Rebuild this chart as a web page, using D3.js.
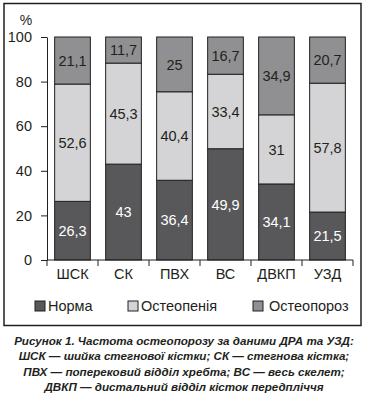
<!DOCTYPE html>
<html><head><meta charset="utf-8">
<script src="https://cdn.jsdelivr.net/npm/d3@7"></script>
<style>html,body{margin:0;padding:0;background:#fff;}svg{display:block;}</style>
</head><body>
<svg id="chart" width="366" height="394"></svg>
<script>
const categories = ["ШСК","СК","ПВХ","ВС","ДВКП","УЗД"];
const norma = [26.3, 43, 36.4, 49.9, 34.1, 21.5];
const osteopenia = [52.6, 45.3, 40.4, 33.4, 31, 57.8];
const osteoporosis = [21.1, 11.7, 25, 16.7, 34.9, 20.7];
const seriesNames = ["Норма","Остеопенія","Остеопороз"];
const yTicks = [0,20,40,60,80,100];
const captionLines = [
  "Рисунок 1. Частота остеопорозу за даними ДРА та УЗД:",
  "ШСК — шийка стегнової кістки; СК — стегнова кістка;",
  "ПВХ — поперековий відділ хребта; ВС — весь скелет;",
  "ДВКП — дистальний відділ кісток передпліччя"
];

const colors = ["#58585a","#d4d4d6","#909092"];
const labelColors = ["#ffffff","#231f20","#231f20"];
const font = "Liberation Sans, Arial, Helvetica, sans-serif";

const svg = d3.select("#chart");
svg.append("rect").attr("x",4).attr("y",3.5).attr("width",357).attr("height",322)
  .attr("fill","none").attr("stroke","#231f20").attr("stroke-width",1.5);

const x = d3.scaleBand().domain(categories).range([47,353]).paddingInner(0.3).paddingOuter(0.15);
const y = d3.scaleLinear().domain([0,100]).range([260,37]);

const stackData = categories.map((c,i)=>({cat:c, s0:norma[i], s1:osteopenia[i], s2:osteoporosis[i]}));
const stacked = d3.stack().keys(["s0","s1","s2"]).offset(d3.stackOffsetExpand)(stackData);

const g = svg.append("g");
stacked.forEach((layer,li)=>{
  g.selectAll(null).data(layer).enter().append("rect")
    .attr("x",d=>x(d.data.cat)).attr("width",x.bandwidth())
    .attr("y",d=>y(d[1]*100)).attr("height",d=>y(d[0]*100)-y(d[1]*100))
    .attr("fill",colors[li]).attr("stroke","#231f20").attr("stroke-width",1);
  g.selectAll(null).data(layer).enter().append("text")
    .attr("x",d=>x(d.data.cat)+x.bandwidth()/2)
    .attr("y",d=>y((d[0]+d[1])*50))
    .attr("dy","0.36em").attr("text-anchor","middle")
    .attr("font-family",font).attr("font-size",14.5)
    .attr("fill",labelColors[li])
    .text(d=>String(d.data["s"+li]).replace(".",","));
});

// y axis
const yAxis = d3.axisLeft(y).tickValues(yTicks).tickSize(6).tickPadding(9).tickSizeOuter(0);
const ya = svg.append("g").attr("transform","translate(47,0)").call(yAxis);
ya.select(".domain").attr("stroke","#231f20");
ya.selectAll(".tick line").attr("stroke","#231f20");
ya.selectAll(".tick text").attr("font-family",font).attr("font-size",14.5).attr("fill","#231f20");

svg.append("text").attr("x",26).attr("y",25).attr("text-anchor","middle")
  .attr("font-family",font).attr("font-size",14).attr("fill","#231f20").text("%");

// x axis with ticks at band edges
svg.append("line").attr("x1",47).attr("x2",353).attr("y1",260).attr("y2",260).attr("stroke","#231f20");
const edges = categories.map(c=>x(c)-x.step()*x.paddingInner()/2).concat([353]);
edges[0]=47;
svg.selectAll(null).data(edges).enter().append("line")
  .attr("x1",d=>d).attr("x2",d=>d).attr("y1",260).attr("y2",266).attr("stroke","#231f20");
svg.selectAll(null).data(categories).enter().append("text")
  .attr("x",d=>x(d)+x.bandwidth()/2).attr("y",279).attr("text-anchor","middle")
  .attr("font-family",font).attr("font-size",14.5).attr("fill","#231f20").text(d=>d);

// legend
const legX = [35,128,253];
const leg = svg.selectAll(null).data(seriesNames).enter().append("g")
  .attr("transform",(d,i)=>`translate(${legX[i]},301)`);
leg.append("rect").attr("width",10).attr("height",10).attr("fill",(d,i)=>colors[i])
  .attr("stroke","#231f20").attr("stroke-width",1);
leg.append("text").attr("x",(d,i)=>i===2?16:13).attr("y",5).attr("dy","0.36em")
  .attr("font-family",font).attr("font-size",14.5).attr("fill","#231f20").text(d=>d);

// caption
const cap = svg.selectAll(null).data(captionLines).enter().append("text")
  .attr("x",184).attr("y",(d,i)=>344.5+i*15.5).attr("text-anchor","middle")
  .attr("font-family","Liberation Sans Narrow, Arial Narrow, sans-serif").attr("font-weight","bold").attr("font-style","italic")
  .attr("font-size",13).attr("fill","#231f20")
  .text(d=>d);
const w0 = cap.node().getComputedTextLength();
const fs = Math.min(14.5, 13 * 340 / w0);
cap.attr("font-size", fs);
</script>
</body></html>
